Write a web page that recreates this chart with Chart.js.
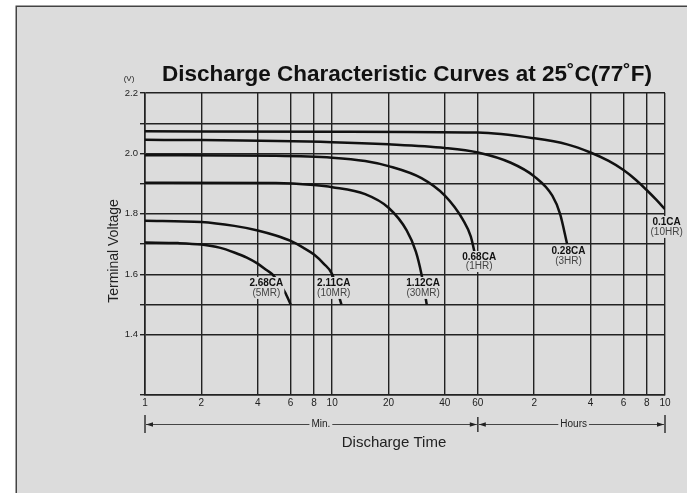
<!DOCTYPE html>
<html>
<head>
<meta charset="utf-8">
<script src="https://cdn.jsdelivr.net/npm/chart.js@4/dist/chart.umd.min.js"></script>
<style>
  html, body { margin: 0; padding: 0; background: #ffffff; }
  canvas { display: block; }
</style>
</head>
<body>
<canvas id="c" width="687" height="493"></canvas>
<script>
// ---------- data (time in minutes, voltage in V) ----------
const xTickValues = [1, 2, 4, 6, 8, 10, 20, 40, 60, 120, 240, 360, 480, 600];
const xTickLabels = ["1", "2", "4", "6", "8", "10", "20", "40", "60", "2", "4", "6", "8", "10"];
const yGridValues = [1.2, 1.4, 1.5, 1.6, 1.7, 1.8, 1.9, 2.0, 2.1, 2.2];
const yLabelValues = [1.4, 1.6, 1.8, 2.0, 2.2];
const yLabelTexts = ["1.4", "1.6", "1.8", "2.0", "2.2"];

const t01 = [1, 10, 60, 120, 180, 240, 300, 360, 420, 480, 540, 600];
const v01 = [2.073, 2.072, 2.069, 2.05, 2.03, 2.003, 1.975, 1.945, 1.912, 1.878, 1.846, 1.815];

const t028 = [1, 2, 10, 20, 40, 60, 90, 120, 150, 165, 180];
const v028 = [2.045, 2.044, 2.037, 2.03, 2.018, 2.003, 1.969, 1.924, 1.86, 1.80, 1.70];

const t068 = [1, 5, 10, 15, 20, 30, 40, 50, 55, 58];
const v068 = [1.994, 1.992, 1.986, 1.975, 1.958, 1.918, 1.86, 1.78, 1.725, 1.665];

const t112 = [1, 5, 8, 10, 15, 20, 25, 28, 30, 32];
const v112 = [1.903, 1.902, 1.895, 1.888, 1.865, 1.82, 1.745, 1.675, 1.60, 1.50];

const t211 = [1, 2, 3, 4, 5, 6, 7, 8, 9, 10, 11.2];
const v211 = [1.777, 1.773, 1.76, 1.745, 1.728, 1.71, 1.688, 1.665, 1.635, 1.60, 1.50];

const t268 = [1, 1.5, 2, 2.5, 3, 3.5, 4, 4.5, 4.78, 5.6, 6.0];
const v268 = [1.705, 1.703, 1.698, 1.688, 1.672, 1.655, 1.635, 1.612, 1.60, 1.54, 1.50];

const curveNames = ["0.1CA", "0.28CA", "0.68CA", "1.12CA", "2.11CA", "2.68CA"];
const curveSubs  = ["(10HR)", "(3HR)", "(1HR)", "(30MR)", "(10MR)", "(5MR)"];
const labelX     = [612, 183, 61, 30.6, 10.2, 4.45];
const labelY1    = [1.773, 1.677, 1.657, 1.571, 1.571, 1.571];
const labelY2    = [1.740, 1.644, 1.627, 1.538, 1.538, 1.538];

const titleText = "Discharge Characteristic Curves at 25\u02DAC(77\u02DAF)";
const yUnitText = "(V)";
const yTitleText = "Terminal Voltage";
const xTitleText = "Discharge Time";
const minText = "Min.";
const hoursText = "Hours";
const minTextAt = 8.7;
const hoursTextAt = 195;

// ---------- helpers ----------
const BG = "#dcdcdc";
const FONT = "'Liberation Sans', Arial, Helvetica, sans-serif";
const zip = (t, v) => t.map((x, i) => ({ x: x, y: v[i] }));
const series = [[t01, v01], [t028, v028], [t068, v068], [t112, v112], [t211, v211], [t268, v268]];

const datasets = series.map((s, i) => ({
  label: curveNames[i],
  data: zip(s[0], s[1]),
  borderColor: "#111",
  borderWidth: 2.5,
  pointRadius: 0,
  fill: false,
  cubicInterpolationMode: "monotone"
}));

const framePlugin = {
  id: "frame",
  beforeDraw(chart) {
    const ctx = chart.ctx;
    ctx.save();
    ctx.fillStyle = BG;
    ctx.fillRect(16, 6, chart.width - 16, chart.height - 6);
    ctx.strokeStyle = "#444";
    ctx.lineWidth = 1.5;
    ctx.beginPath();
    ctx.moveTo(16.25, chart.height);
    ctx.lineTo(16.25, 6.25);
    ctx.lineTo(chart.width, 6.25);
    ctx.stroke();
    ctx.restore();
  }
};

function arrowHead(ctx, x, y, dir) {
  ctx.beginPath();
  ctx.moveTo(x, y);
  ctx.lineTo(x - dir * 7, y - 2.2);
  ctx.lineTo(x - dir * 7, y + 2.2);
  ctx.closePath();
  ctx.fill();
}

const decorPlugin = {
  id: "decor",
  afterDatasetsDraw(chart) {
    const ctx = chart.ctx;
    const xs = chart.scales.x, ys = chart.scales.y;
    const area = chart.chartArea;
    ctx.save();

    // curve labels with masking background
    for (let i = 0; i < curveNames.length; i++) {
      const cx = xs.getPixelForValue(labelX[i]);
      const y1 = ys.getPixelForValue(labelY1[i]);
      const y2 = ys.getPixelForValue(labelY2[i]);
      ctx.font = "bold 10px " + FONT;
      const w1 = ctx.measureText(curveNames[i]).width;
      ctx.font = "10px " + FONT;
      const w2 = ctx.measureText(curveSubs[i]).width;
      const w = Math.max(w1, w2) + 2;
      ctx.fillStyle = BG;
      ctx.fillRect(cx - w / 2, y1 - 6, w, (y2 - y1) + 12);
      ctx.textAlign = "center";
      ctx.textBaseline = "middle";
      ctx.fillStyle = "#111";
      ctx.font = "bold 10px " + FONT;
      ctx.fillText(curveNames[i], cx, y1);
      ctx.fillStyle = "#444";
      ctx.font = "10px " + FONT;
      ctx.fillText(curveSubs[i], cx, y2);
    }

    // title
    ctx.fillStyle = "#111";
    ctx.textAlign = "center";
    ctx.textBaseline = "middle";
    ctx.font = "bold 22.5px " + FONT;
    ctx.fillText(titleText, 407, 75);

    // (V)
    ctx.font = "8px " + FONT;
    ctx.fillStyle = "#222";
    ctx.fillText(yUnitText, 129, 79);

    // y title
    ctx.save();
    ctx.translate(114, 251);
    ctx.rotate(-Math.PI / 2);
    ctx.font = "14px " + FONT;
    ctx.fillStyle = "#222";
    ctx.fillText(yTitleText, 0, 0);
    ctx.restore();

    // x title
    ctx.font = "15px " + FONT;
    ctx.fillStyle = "#222";
    ctx.fillText(xTitleText, (area.left + area.right) / 2 - 11, 443);

    // Min / Hours arrows row
    const yA = 424.5;
    const xL = xs.getPixelForValue(1);
    const xM = xs.getPixelForValue(60);
    const xR = xs.getPixelForValue(600);
    ctx.strokeStyle = "#333";
    ctx.fillStyle = "#222";
    ctx.lineWidth = 1.5;
    ctx.beginPath();
    ctx.moveTo(xL, 415); ctx.lineTo(xL, 433);
    ctx.moveTo(xM, 417); ctx.lineTo(xM, 432);
    ctx.moveTo(xR, 415); ctx.lineTo(xR, 433);
    ctx.stroke();

    ctx.font = "10px " + FONT;
    const xMin = xs.getPixelForValue(minTextAt);
    const xHr = xs.getPixelForValue(hoursTextAt);
    const wMin = ctx.measureText(minText).width;
    const wHr = ctx.measureText(hoursText).width;
    ctx.lineWidth = 0.9;
    ctx.beginPath();
    ctx.moveTo(xL + 1, yA); ctx.lineTo(xMin - wMin / 2 - 2, yA);
    ctx.moveTo(xMin + wMin / 2 + 2, yA); ctx.lineTo(xM - 1, yA);
    ctx.moveTo(xM + 1, yA); ctx.lineTo(xHr - wHr / 2 - 2, yA);
    ctx.moveTo(xHr + wHr / 2 + 2, yA); ctx.lineTo(xR - 1, yA);
    ctx.stroke();
    arrowHead(ctx, xL + 1, yA, -1);
    arrowHead(ctx, xM - 1, yA, 1);
    arrowHead(ctx, xM + 1, yA, -1);
    arrowHead(ctx, xR - 1, yA, 1);
    ctx.fillStyle = "#222";
    ctx.fillText(minText, xMin, yA);
    ctx.fillText(hoursText, xHr, yA);

    ctx.restore();
  }
};

new Chart(document.getElementById("c"), {
  type: "line",
  data: { datasets: datasets },
  plugins: [framePlugin, decorPlugin],
  options: {
    responsive: false,
    animation: false,
    devicePixelRatio: 1,
    layout: { padding: { left: 113, right: 22, top: 93, bottom: 78 } },
    plugins: { legend: { display: false }, tooltip: { enabled: false }, title: { display: false } },
    scales: {
      x: {
        type: "logarithmic",
        min: 1, max: 600,
        afterBuildTicks(axis) { axis.ticks = xTickValues.map(v => ({ value: v })); },
        afterFit(axis) { axis.height = 20; },
        ticks: {
          autoSkip: false, maxRotation: 0, minRotation: 0, padding: 2,
          color: "#222",
          font: { family: FONT, size: 10 },
          callback(value) {
            const i = xTickValues.indexOf(value);
            return i >= 0 ? xTickLabels[i] : "";
          }
        },
        grid: { color: "#222", lineWidth: 1.4, drawTicks: false },
        border: { display: true, color: "#222", width: 1.6 }
      },
      y: {
        type: "linear",
        min: 1.2, max: 2.2,
        afterBuildTicks(axis) { axis.ticks = yGridValues.map(v => ({ value: v })); },
        afterFit(axis) { axis.width = 32; },
        ticks: {
          padding: 2,
          color: "#222",
          font: { family: FONT, size: 9.5 },
          callback(value) {
            const i = yLabelValues.findIndex(v => Math.abs(v - value) < 1e-6);
            return i >= 0 ? yLabelTexts[i] : "";
          }
        },
        grid: { color: "#222", lineWidth: 1.4, drawTicks: true, tickLength: 5 },
        border: { display: true, color: "#222", width: 1.6 }
      }
    }
  }
});
</script>
</body>
</html>
